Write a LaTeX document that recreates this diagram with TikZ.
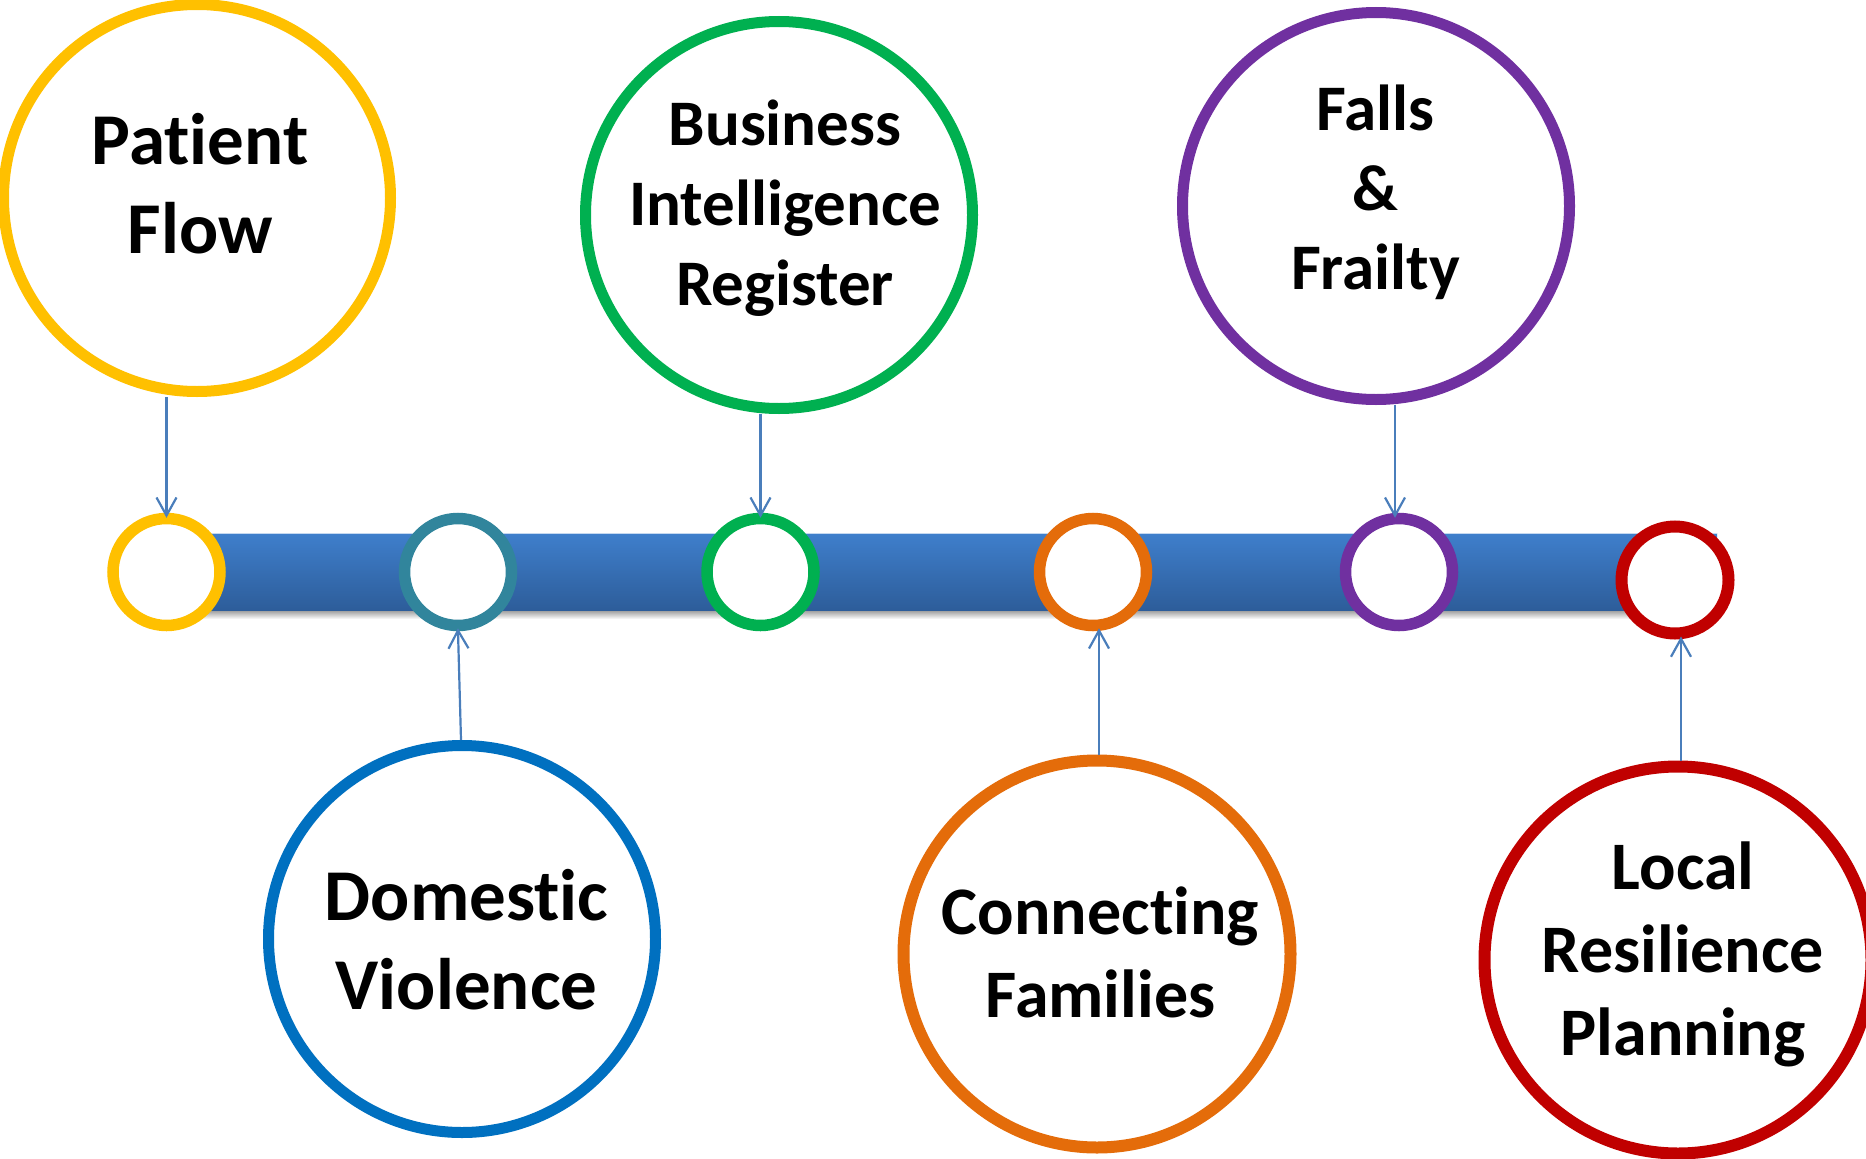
\documentclass[tikz,border=0pt]{standalone}
\usepackage{fontspec}
\setmainfont{Carlito}[Ligatures={NoCommon,NoRare,NoContextual}]
\usetikzlibrary{arrows.meta}
\definecolor{cyellow}{HTML}{FFC000}
\definecolor{cgreen}{HTML}{00B050}
\definecolor{cpurple}{HTML}{7030A0}
\definecolor{cblue}{HTML}{0070C0}
\definecolor{corange}{HTML}{E46C0A}
\definecolor{cred}{HTML}{C00000}
\definecolor{cteal}{HTML}{31859C}
\definecolor{carrow}{HTML}{4A7EBB}
\definecolor{bartop}{HTML}{3F7FCC}
\definecolor{barbot}{HTML}{2D5D9A}
\begin{document}
\begin{tikzpicture}[x=1pt,y=-1pt,
  big/.style={circle,draw=#1,line width=11pt,minimum size=387pt,inner sep=0pt,fill=white},
  small/.style={circle,draw=#1,line width=11.5pt,minimum size=107pt,inner sep=0pt,fill=white},
  lbl/.style={anchor=base,inner sep=0pt,font=\bfseries\fontsize{#1}{#1}\selectfont},
  conn/.style={draw=carrow,line width=2.2pt,-{Straight Barb[length=18pt,width=20pt]}}]
\useasboundingbox (0,0) rectangle (1866,1159);
\clip (0,0) rectangle (1866,1159);
% bar with shadow
\shade[top color=black!45, bottom color=white] (204,609) rectangle (1719,619);
\shade[top color=bartop, bottom color=barbot] (202,533) rectangle (1717,610);
\draw[white!70!bartop, line width=1pt] (202,533.5) -- (1717,533.5);
% small circles on the bar
\node[small=cyellow] (ys) at (166.5,572) {};
\node[small=cteal]   (ts) at (458,572) {};
\node[small=cgreen]  (gs) at (760.5,572) {};
\node[small=corange] (os) at (1093,572) {};
\node[small=cpurple] (vs) at (1399,572) {};
\node[small=cred, line width=12pt] (rs) at (1675,580) {};
% big circles
\node[big=cyellow] (pf) at (197,198) {};
\node[big=cgreen]  (bi) at (779,215) {};
\node[big=cpurple] (ff) at (1376,206) {};
\node[big=cblue]   (dv) at (462,939) {};
\node[big=corange, line width=12pt] (cf) at (1097,954) {};
\node[big=cred, line width=12pt]    (lr) at (1678,960) {};
% labels
\node[lbl=73] (pf1) at (200,164) {Pat\kern0pt ient};
\node[lbl=73] (pf2) at (200,253) {Flow};
\node[lbl=65] (bi1) at (785,145.7) {Business};
\node[lbl=65] (bi2) at (785,225) {Intelligence};
\node[lbl=65] (bi3) at (785,305) {Register};
\node[lbl=65] (ff1) at (1375.5,130) {Falls};
\node[lbl=65] (ff2) at (1375.5,210) {\&};
\node[lbl=65] (ff3) at (1375.5,289) {Frailty};
\node[lbl=73] (dv1) at (466.5,920) {Domest\kern0pt ic};
\node[lbl=73] (dv2) at (466.5,1009) {Violence};
\node[lbl=68] (cf1) at (1100.5,934) {Connect\kern0pt ing};
\node[lbl=68] (cf2) at (1100.5,1017) {Families};
\node[lbl=68] (lr1) at (1683,889) {Local};
\node[lbl=68] (lr2) at (1683,972) {Resilience};
\node[lbl=68] (lr3) at (1683,1055) {Planning};
% connectors
\draw[conn, shorten >=-5pt] (ys |- pf.south) -- (ys.north);
\draw[conn, shorten >=-5pt] (gs |- bi.south) -- (gs.north);
\draw[conn, shorten >=-5pt] ([xshift=-4pt]vs |- ff.south) -- ([xshift=-4pt]vs.north);
\draw[conn, shorten >=-3pt] ([xshift=-1pt]dv.north) -- (ts.south);
\draw[conn, shorten >=-3pt] ([xshift=2pt]cf.north) -- ([xshift=2pt]cf.north |- os.south);
\draw[conn, shorten >=-3pt] ([xshift=3pt]lr.north) -- ([xshift=3pt]lr.north |- rs.south);
\end{tikzpicture}
\end{document}
